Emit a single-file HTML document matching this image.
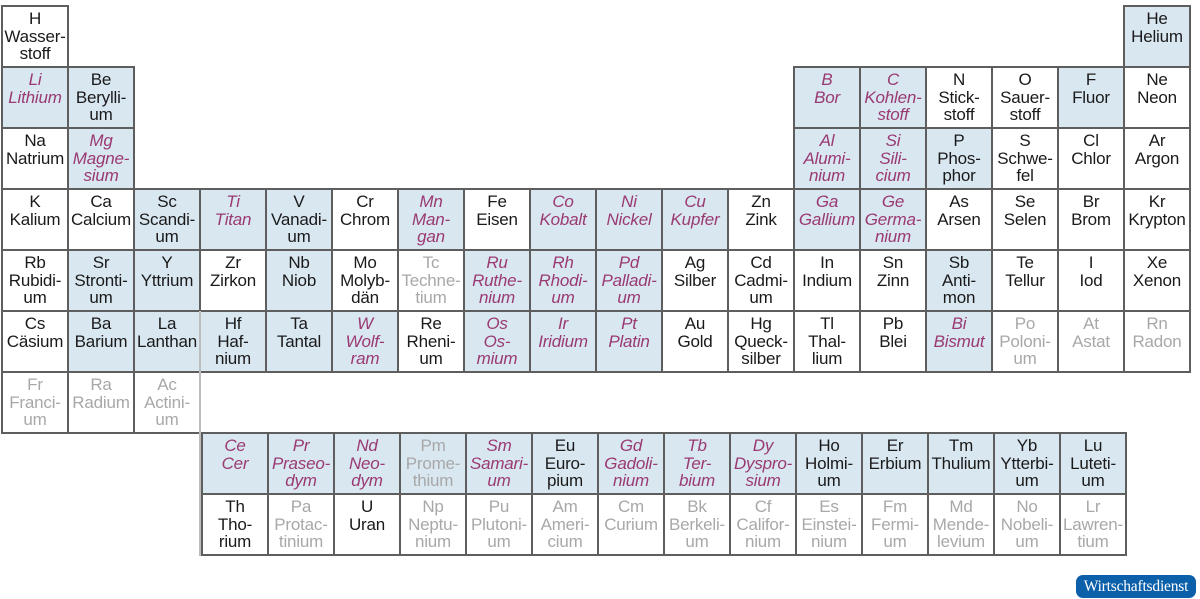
<!DOCTYPE html>
<html><head><meta charset="utf-8"><style>
body{margin:0;width:1200px;height:599px;background:#fff;position:relative;overflow:hidden;font-family:"Liberation Sans",Arial,sans-serif}
.c{position:absolute;width:68px;height:63px;box-sizing:border-box;border:2px solid #5e5e5e;background:#fff;color:#1a1a1a;font-size:17px;line-height:17.5px;text-align:center;padding-top:3px;letter-spacing:-0.2px;white-space:nowrap;overflow:visible}
.b{background:#d9e7f1}
.m{color:#9a3a73;font-style:italic}
.g{color:#a8a8a8}
.logo{position:absolute;left:1076px;top:575px;width:120px;height:23px;border-radius:7px;background:#0c5fa9;color:#fff;font-family:"Liberation Serif",serif;font-size:15.5px;line-height:23px;text-align:center;letter-spacing:-0.2px}
.vl{position:absolute;left:199px;top:311px;width:2px;height:245px;background:#bdbdbd}
</style></head><body>
<div class="c" style="left:1px;top:5px">H<br>Wasser-<br>stoff</div>
<div class="c b" style="left:1123px;top:5px">He<br>Helium</div>

<div class="c b m" style="left:1px;top:66px">Li<br>Lithium</div>
<div class="c b" style="left:67px;top:66px">Be<br>Berylli-<br>um</div>
<div class="c b m" style="left:793px;top:66px">B<br>Bor</div>
<div class="c b m" style="left:859px;top:66px">C<br>Kohlen-<br>stoff</div>
<div class="c" style="left:925px;top:66px">N<br>Stick-<br>stoff</div>
<div class="c" style="left:991px;top:66px">O<br>Sauer-<br>stoff</div>
<div class="c b" style="left:1057px;top:66px">F<br>Fluor</div>
<div class="c" style="left:1123px;top:66px">Ne<br>Neon</div>

<div class="c" style="left:1px;top:127px">Na<br>Natrium</div>
<div class="c b m" style="left:67px;top:127px">Mg<br>Magne-<br>sium</div>
<div class="c b m" style="left:793px;top:127px">Al<br>Alumi-<br>nium</div>
<div class="c b m" style="left:859px;top:127px">Si<br>Sili-<br>cium</div>
<div class="c b" style="left:925px;top:127px">P<br>Phos-<br>phor</div>
<div class="c" style="left:991px;top:127px">S<br>Schwe-<br>fel</div>
<div class="c" style="left:1057px;top:127px">Cl<br>Chlor</div>
<div class="c" style="left:1123px;top:127px">Ar<br>Argon</div>

<div class="c" style="left:1px;top:188px">K<br>Kalium</div>
<div class="c" style="left:67px;top:188px">Ca<br>Calcium</div>
<div class="c b" style="left:133px;top:188px">Sc<br>Scandi-<br>um</div>
<div class="c b m" style="left:199px;top:188px">Ti<br>Titan</div>
<div class="c b" style="left:265px;top:188px">V<br>Vanadi-<br>um</div>
<div class="c" style="left:331px;top:188px">Cr<br>Chrom</div>
<div class="c b m" style="left:397px;top:188px">Mn<br>Man-<br>gan</div>
<div class="c" style="left:463px;top:188px">Fe<br>Eisen</div>
<div class="c b m" style="left:529px;top:188px">Co<br>Kobalt</div>
<div class="c b m" style="left:595px;top:188px">Ni<br>Nickel</div>
<div class="c b m" style="left:661px;top:188px">Cu<br>Kupfer</div>
<div class="c" style="left:727px;top:188px">Zn<br>Zink</div>
<div class="c b m" style="left:793px;top:188px">Ga<br>Gallium</div>
<div class="c b m" style="left:859px;top:188px">Ge<br>Germa-<br>nium</div>
<div class="c" style="left:925px;top:188px">As<br>Arsen</div>
<div class="c" style="left:991px;top:188px">Se<br>Selen</div>
<div class="c" style="left:1057px;top:188px">Br<br>Brom</div>
<div class="c" style="left:1123px;top:188px">Kr<br>Krypton</div>

<div class="c" style="left:1px;top:249px">Rb<br>Rubidi-<br>um</div>
<div class="c b" style="left:67px;top:249px">Sr<br>Stronti-<br>um</div>
<div class="c b" style="left:133px;top:249px">Y<br>Yttrium</div>
<div class="c" style="left:199px;top:249px">Zr<br>Zirkon</div>
<div class="c b" style="left:265px;top:249px">Nb<br>Niob</div>
<div class="c" style="left:331px;top:249px">Mo<br>Molyb-<br>dän</div>
<div class="c g" style="left:397px;top:249px">Tc<br>Techne-<br>tium</div>
<div class="c b m" style="left:463px;top:249px">Ru<br>Ruthe-<br>nium</div>
<div class="c b m" style="left:529px;top:249px">Rh<br>Rhodi-<br>um</div>
<div class="c b m" style="left:595px;top:249px">Pd<br>Palladi-<br>um</div>
<div class="c" style="left:661px;top:249px">Ag<br>Silber</div>
<div class="c" style="left:727px;top:249px">Cd<br>Cadmi-<br>um</div>
<div class="c" style="left:793px;top:249px">In<br>Indium</div>
<div class="c" style="left:859px;top:249px">Sn<br>Zinn</div>
<div class="c b" style="left:925px;top:249px">Sb<br>Anti-<br>mon</div>
<div class="c" style="left:991px;top:249px">Te<br>Tellur</div>
<div class="c" style="left:1057px;top:249px">I<br>Iod</div>
<div class="c" style="left:1123px;top:249px">Xe<br>Xenon</div>

<div class="c" style="left:1px;top:310px">Cs<br>Cäsium</div>
<div class="c b" style="left:67px;top:310px">Ba<br>Barium</div>
<div class="c b" style="left:133px;top:310px">La<br>Lanthan</div>
<div class="c b" style="left:199px;top:310px">Hf<br>Haf-<br>nium</div>
<div class="c b" style="left:265px;top:310px">Ta<br>Tantal</div>
<div class="c b m" style="left:331px;top:310px">W<br>Wolf-<br>ram</div>
<div class="c" style="left:397px;top:310px">Re<br>Rheni-<br>um</div>
<div class="c b m" style="left:463px;top:310px">Os<br>Os-<br>mium</div>
<div class="c b m" style="left:529px;top:310px">Ir<br>Iridium</div>
<div class="c b m" style="left:595px;top:310px">Pt<br>Platin</div>
<div class="c" style="left:661px;top:310px">Au<br>Gold</div>
<div class="c" style="left:727px;top:310px">Hg<br>Queck-<br>silber</div>
<div class="c" style="left:793px;top:310px">Tl<br>Thal-<br>lium</div>
<div class="c" style="left:859px;top:310px">Pb<br>Blei</div>
<div class="c b m" style="left:925px;top:310px">Bi<br>Bismut</div>
<div class="c g" style="left:991px;top:310px">Po<br>Poloni-<br>um</div>
<div class="c g" style="left:1057px;top:310px">At<br>Astat</div>
<div class="c g" style="left:1123px;top:310px">Rn<br>Radon</div>

<div class="c g" style="left:1px;top:371px">Fr<br>Franci-<br>um</div>
<div class="c g" style="left:67px;top:371px">Ra<br>Radium</div>
<div class="c g" style="left:133px;top:371px">Ac<br>Actini-<br>um</div>

<div class="c b m" style="left:201px;top:432px">Ce<br>Cer</div>
<div class="c b m" style="left:267px;top:432px">Pr<br>Praseo-<br>dym</div>
<div class="c b m" style="left:333px;top:432px">Nd<br>Neo-<br>dym</div>
<div class="c b g" style="left:399px;top:432px">Pm<br>Prome-<br>thium</div>
<div class="c b m" style="left:465px;top:432px">Sm<br>Samari-<br>um</div>
<div class="c b" style="left:531px;top:432px">Eu<br>Euro-<br>pium</div>
<div class="c b m" style="left:597px;top:432px">Gd<br>Gadoli-<br>nium</div>
<div class="c b m" style="left:663px;top:432px">Tb<br>Ter-<br>bium</div>
<div class="c b m" style="left:729px;top:432px">Dy<br>Dyspro-<br>sium</div>
<div class="c b" style="left:795px;top:432px">Ho<br>Holmi-<br>um</div>
<div class="c b" style="left:861px;top:432px">Er<br>Erbium</div>
<div class="c b" style="left:927px;top:432px">Tm<br>Thulium</div>
<div class="c b" style="left:993px;top:432px">Yb<br>Ytterbi-<br>um</div>
<div class="c b" style="left:1059px;top:432px">Lu<br>Luteti-<br>um</div>

<div class="c" style="left:201px;top:493px">Th<br>Tho-<br>rium</div>
<div class="c g" style="left:267px;top:493px">Pa<br>Protac-<br>tinium</div>
<div class="c" style="left:333px;top:493px">U<br>Uran</div>
<div class="c g" style="left:399px;top:493px">Np<br>Neptu-<br>nium</div>
<div class="c g" style="left:465px;top:493px">Pu<br>Plutoni-<br>um</div>
<div class="c g" style="left:531px;top:493px">Am<br>Ameri-<br>cium</div>
<div class="c g" style="left:597px;top:493px">Cm<br>Curium</div>
<div class="c g" style="left:663px;top:493px">Bk<br>Berkeli-<br>um</div>
<div class="c g" style="left:729px;top:493px">Cf<br>Califor-<br>nium</div>
<div class="c g" style="left:795px;top:493px">Es<br>Einstei-<br>nium</div>
<div class="c g" style="left:861px;top:493px">Fm<br>Fermi-<br>um</div>
<div class="c g" style="left:927px;top:493px">Md<br>Mende-<br>levium</div>
<div class="c g" style="left:993px;top:493px">No<br>Nobeli-<br>um</div>
<div class="c g" style="left:1059px;top:493px">Lr<br>Lawren-<br>tium</div>

<div class="vl"></div>
<div class="logo">Wirtschaftsdienst</div>
</body></html>
